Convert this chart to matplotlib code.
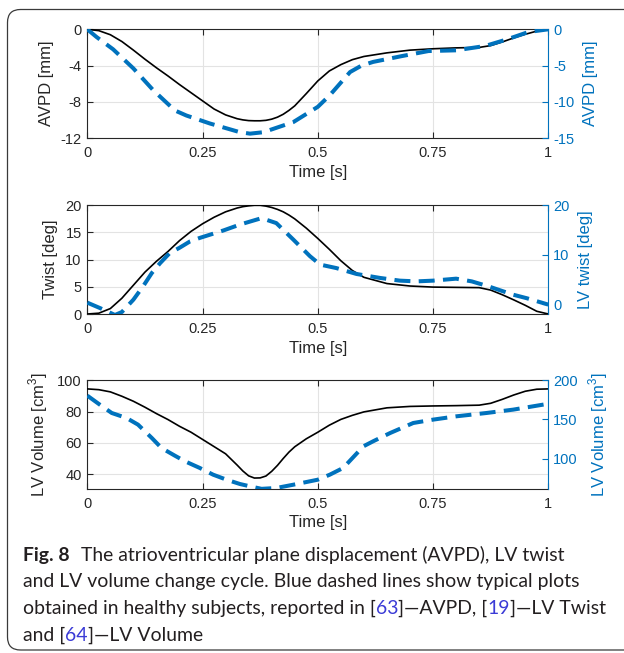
import matplotlib
matplotlib.use("Agg")
import matplotlib.pyplot as plt
from matplotlib.patches import FancyBboxPatch
from matplotlib.transforms import IdentityTransform

# ---------------------------------------------------------------- data
t_model = [0, 0.025, 0.05, 0.075, 0.1, 0.125, 0.15, 0.175, 0.2, 0.225, 0.25,
           0.275, 0.3, 0.325, 0.3375, 0.35, 0.3625, 0.375, 0.3875, 0.4,
           0.4125, 0.425, 0.4375, 0.45, 0.475, 0.5, 0.525, 0.55, 0.575, 0.6,
           0.65, 0.7, 0.75, 0.8, 0.85, 0.875, 0.9, 0.925, 0.95, 0.975, 1.0]

avpd_model = [0, -0.15, -0.6, -1.35, -2.3, -3.3, -4.25, -5.15, -6.1, -7.0,
              -7.9, -8.8, -9.45, -9.87, -10.0, -10.08, -10.1, -10.1, -10.05,
              -9.92, -9.7, -9.38, -8.95, -8.45, -7.1, -5.7, -4.6, -3.9,
              -3.35, -3.0, -2.6, -2.3, -2.15, -2.05, -2.0, -1.8, -1.4, -0.95,
              -0.55, -0.2, 0]

twist_model = [0, 0.15, 1.0, 2.9, 5.3, 7.7, 9.7, 11.5, 13.5, 15.2, 16.6,
               17.8, 18.8, 19.5, 19.75, 19.9, 20.0, 20.0, 19.85, 19.6, 19.25,
               18.8, 18.2, 17.5, 15.8, 13.9, 11.9, 9.8, 8.0, 6.75, 5.6, 5.15,
               4.95, 4.9, 4.85, 4.4, 3.55, 2.6, 1.6, 0.5, 0]

volume_model = [94.5, 94.0, 92.6, 89.8, 86.6, 82.8, 78.7, 74.9, 70.6, 66.8,
                62.2, 57.6, 53.0, 45.8, 42.0, 38.9, 37.5, 37.6, 38.8, 41.8,
                45.6, 50.0, 54.1, 57.5, 62.6, 66.8, 71.3, 75.0, 77.6, 79.8,
                82.4, 83.3, 83.6, 83.8, 84.1, 85.3, 87.8, 90.6, 93.0, 94.3,
                94.5]

t_avpd_ref = [0, 0.02, 0.056, 0.1, 0.143, 0.19, 0.215, 0.266, 0.331, 0.353,
              0.382, 0.447, 0.5, 0.526, 0.57, 0.595, 0.62, 0.682, 0.74, 0.80,
              0.863, 0.91, 0.957, 1.0]
avpd_ref = [0, -1.06, -2.76, -5.4, -8.4, -11.2, -11.9, -13.0, -14.2, -14.4,
            -14.2, -12.8, -10.7, -9.1, -5.9, -5.0, -4.5, -3.7, -3.0, -2.9,
            -2.3, -1.4, -0.37, 0]

t_twist_ref = [0, 0.03, 0.06, 0.075, 0.087, 0.1, 0.121, 0.14, 0.158, 0.179,
               0.2, 0.223, 0.244, 0.295, 0.331, 0.378, 0.41, 0.447, 0.483,
               0.505, 0.54, 0.584, 0.635, 0.678, 0.714, 0.75, 0.8, 0.834,
               0.87, 0.924, 0.953, 1.0]
twist_ref = [0.3, -0.9, -2.2, -1.6, -0.4, 0.9, 3.6, 6.3, 8.3, 10.35, 11.4,
             12.7, 13.4, 14.9, 16.1, 17.4, 16.4, 13.05, 9.7, 8.0, 7.3, 6.1,
             5.3, 4.75, 4.6, 4.75, 5.15, 4.6, 3.6, 1.9, 1.2, -0.1]

t_volume_ref = [0, 0.027, 0.053, 0.085, 0.11, 0.14, 0.161, 0.19, 0.212,
                0.244, 0.273, 0.302, 0.331, 0.353, 0.378, 0.41, 0.447, 0.5,
                0.526, 0.555, 0.599, 0.62, 0.657, 0.707, 0.75, 0.8, 0.866,
                0.924, 1.0]
volume_ref = [180.4, 168.9, 158.2, 151.8, 143.3, 126.2, 113.4, 103.6, 96.4,
              87.9, 79.3, 72.9, 67.4, 64.4, 61.2, 62.3, 66.5, 72.9, 79.3,
              87.9, 115.6, 122.0, 132.6, 145.4, 149.7, 153.9, 158.2, 162.5,
              170.0]

x_ticks = [0, 0.25, 0.5, 0.75, 1]
x_tick_labels = ["0", "0.25", "0.5", "0.75", "1"]

panels = [
    dict(t_l=t_model, y_l=avpd_model, t_r=t_avpd_ref, y_r=avpd_ref,
         lim_l=(-12, 0), ticks_l=[-12, -8, -4, 0],
         lim_r=(-15, 0), ticks_r=[-15, -10, -5, 0],
         lab_l="AVPD [mm]", lab_r="AVPD [mm]"),
    dict(t_l=t_model, y_l=twist_model, t_r=t_twist_ref, y_r=twist_ref,
         lim_l=(0, 20), ticks_l=[0, 5, 10, 15, 20],
         lim_r=(-2, 20), ticks_r=[0, 10, 20],
         lab_l="Twist [deg]", lab_r="LV twist [deg]"),
    dict(t_l=t_model, y_l=volume_model, t_r=t_volume_ref, y_r=volume_ref,
         lim_l=(30.5, 100), ticks_l=[40, 60, 80, 100],
         lim_r=(61, 200), ticks_r=[100, 150, 200],
         lab_l="LV Volume [cm$^3$]", lab_r="LV Volume [cm$^3$]"),
]

# ---------------------------------------------------------------- style
W, H = 624, 653
DARK = "#262626"
BLUE = "#0072BD"
plt.rcParams["font.family"] = ["Liberation Sans", "DejaVu Sans"]
plt.rcParams["mathtext.fontset"] = "custom"
plt.rcParams["mathtext.rm"] = "Liberation Sans"
plt.rcParams["axes.unicode_minus"] = False
plt.rcParams["lines.scale_dashes"] = False

fig = plt.figure(figsize=(W / 100, H / 100), dpi=100)

# rounded frame around figure and caption
frame = FancyBboxPatch((7.5, 3.0), 700, H - 12.5,
                       boxstyle="round,pad=0,rounding_size=13",
                       transform=IdentityTransform(), fill=False,
                       edgecolor="#3a3a3a", linewidth=0.9)
fig.patches.append(frame)

ax_left = 87.3 / W
ax_width = (548.3 - 87.3) / W
ax_height = 108.7 / H
ax_bottoms = [1 - 138.0 / H, 1 - 314.0 / H, 1 - 489.0 / H]

for p, bottom in zip(panels, ax_bottoms):
    ax = fig.add_axes([ax_left, bottom, ax_width, ax_height])
    axr = ax.twinx()

    ax.plot(p["t_l"], p["y_l"], color="black", lw=1.2, zorder=3)
    axr.plot(p["t_r"], p["y_r"], color=BLUE, lw=2.9, dashes=(11.5, 6.0),
             zorder=3)

    ax.set_xlim(0, 1)
    ax.set_ylim(*p["lim_l"])
    axr.set_ylim(*p["lim_r"])
    ax.set_xticks(x_ticks)
    ax.set_xticklabels(x_tick_labels)
    ax.set_yticks(p["ticks_l"])
    axr.set_yticks(p["ticks_r"])
    ax.set_yticklabels([f"{v:g}" for v in p["ticks_l"]])
    axr.set_yticklabels([f"{v:g}" for v in p["ticks_r"]])

    ax.grid(True, color="#e3e3e3", lw=0.8)
    ax.set_axisbelow(True)

    for s in ("left", "bottom", "top"):
        ax.spines[s].set_color(DARK)
        ax.spines[s].set_linewidth(0.8)
    ax.spines["right"].set_visible(False)
    for s in ("left", "bottom", "top"):
        axr.spines[s].set_visible(False)
    axr.spines["right"].set_color(BLUE)
    axr.spines["right"].set_linewidth(0.8)

    ax.tick_params(axis="x", direction="in", length=4, width=0.8,
                   colors=DARK, labelsize=10.5, pad=6, top=True)
    ax.tick_params(axis="y", direction="in", length=4, width=0.8,
                   colors=DARK, labelsize=10.5, pad=4)
    axr.tick_params(axis="y", direction="in", length=4, width=0.8,
                    colors=BLUE, labelsize=10.5, pad=3.5)

    ax.set_xlabel("Time [s]", fontsize=12, color=DARK, labelpad=3)
    ax.set_ylabel(p["lab_l"], fontsize=12, color=DARK, labelpad=5)
    axr.set_ylabel(p["lab_r"], fontsize=12, color=BLUE, labelpad=6)

# ---------------------------------------------------------------- caption
CAP_FONT = ["Lato", "DejaVu Sans"]
CAP_COLOR = "#231f20"
REF_COLOR = "#3b3bd6"
renderer = fig.canvas.get_renderer()


def text_width(s, size, weight="normal"):
    t = fig.text(0, 0, s, fontsize=size, family=CAP_FONT, fontweight=weight)
    w = t.get_window_extent(renderer).width
    t.remove()
    return w


line2 = "and LV volume change cycle. Blue dashed lines show typical plots"
cap_size = 10 * 555.0 / text_width(line2, 10)
space_w = text_width("x x", cap_size) - text_width("xx", cap_size)


def caption_line(y_px, pieces):
    x = 23.0
    for s, color, weight, gap in pieces:
        t = fig.text(x / W, (H - y_px) / H, s, fontsize=cap_size,
                     family=CAP_FONT, fontweight=weight, color=color,
                     va="baseline", ha="left")
        x += t.get_window_extent(renderer).width + gap * space_w


caption_line(560.7, [("Fig. 8", CAP_COLOR, "bold", 2.2),
                     ("The atrioventricular plane displacement (AVPD), LV twist",
                      CAP_COLOR, "normal", 0)])
caption_line(587.0, [(line2, CAP_COLOR, "normal", 0)])
caption_line(613.8, [("obtained in healthy subjects, reported in [", CAP_COLOR,
                      "normal", 0),
                     ("63", REF_COLOR, "normal", 0),
                     ("]\u2014AVPD, [", CAP_COLOR, "normal", 0),
                     ("19", REF_COLOR, "normal", 0),
                     ("]\u2014LV Twist", CAP_COLOR, "normal", 0)])
caption_line(640.8, [("and [", CAP_COLOR, "normal", 0),
                     ("64", REF_COLOR, "normal", 0),
                     ("]\u2014LV Volume", CAP_COLOR, "normal", 0)])

fig.savefig("out.png", dpi=100)
